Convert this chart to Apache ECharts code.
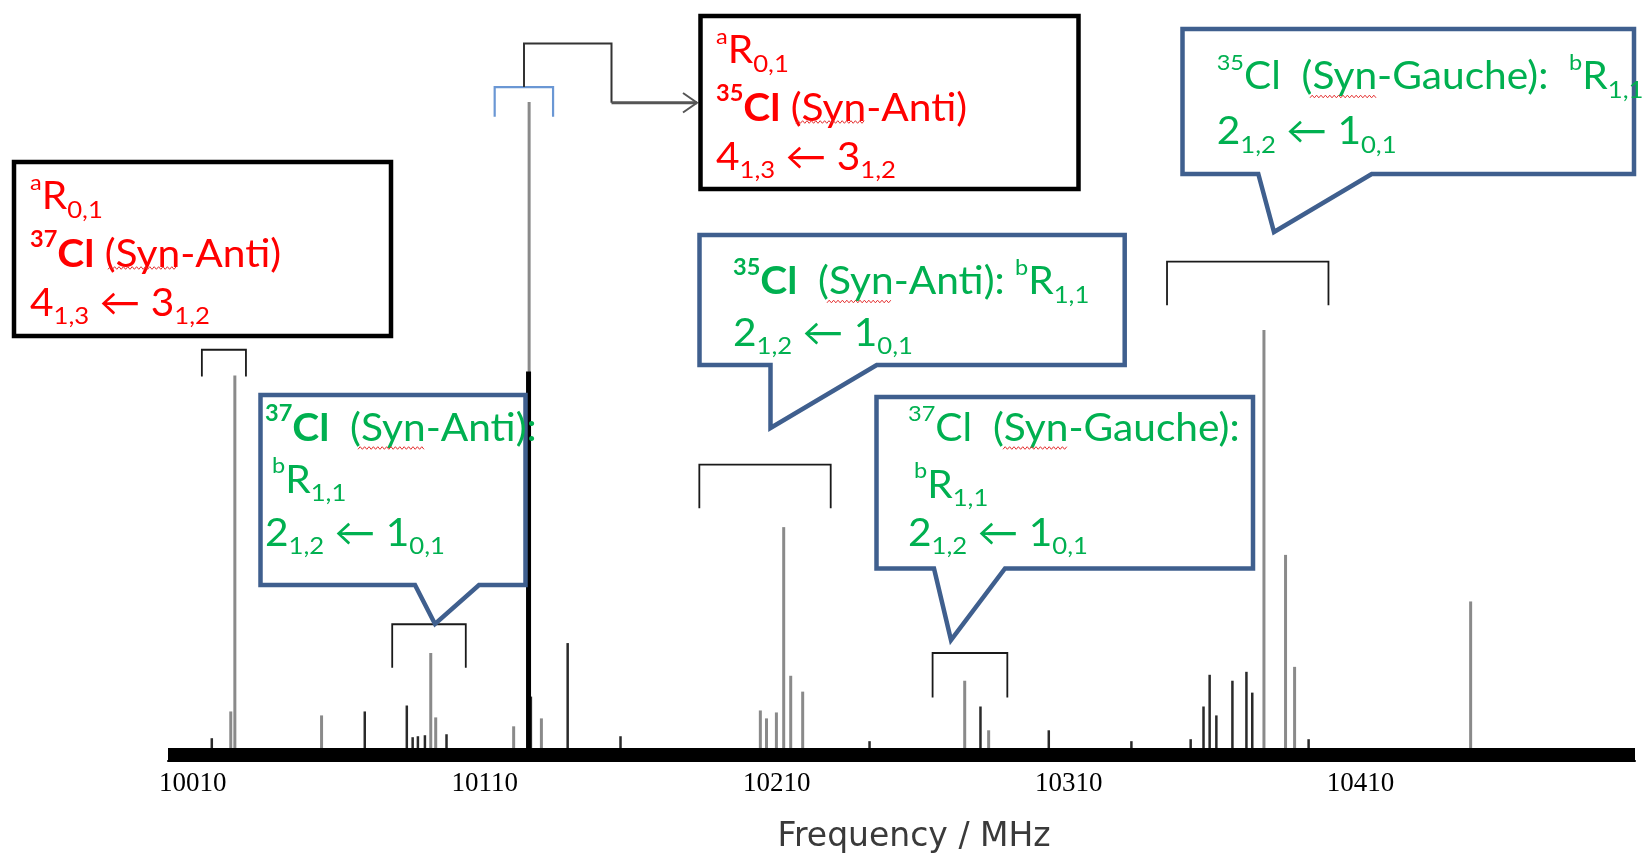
<!DOCTYPE html>
<html><head><meta charset="utf-8">
<script src="https://cdn.jsdelivr.net/npm/echarts@6/dist/echarts.min.js"></script>
<style>html,body{margin:0;padding:0;background:#fff}#c{width:1642px;height:859px}</style>
</head><body><div id="c"></div>
<script>
// ---- data (frequency in MHz, intensity in arbitrary units) ----
const tickValues = [10010, 10110, 10210, 10310, 10410];
const freqRange = [10001.5, 10504];
const intensityRange = [-7, 658];
const baselineFreq = [10001.5, 10504];
const baselineInt = [0, 0];
const lightPeakFreq = [10023.0, 10024.4, 10054.1, 10091.5, 10093.2, 10119.9, 10125.2, 10129.4, 10204.4, 10206.5, 10209.9, 10212.4, 10214.8, 10218.9, 10274.4, 10282.6, 10376.9, 10384.3, 10387.4, 10447.7];
const lightPeakInt  = [43, 382, 39, 102, 37, 28, 658, 36, 44, 36, 42, 229, 79, 63, 74, 24, 428, 201, 88, 154];
const darkPeakFreq = [10016.5, 10068.9, 10083.3, 10085.3, 10087.1, 10089.5, 10096.9, 10125.8, 10138.4, 10156.5, 10241.8, 10279.8, 10303.2, 10331.5, 10351.8, 10356.2, 10358.3, 10360.6, 10366.1, 10370.9, 10372.9, 10392.2];
const darkPeakInt  = [16, 43, 49, 17, 18, 19, 20, 58, 112, 18, 13, 48, 24, 13, 15, 48, 80, 39, 74, 83, 62, 15];
const strongPeakFreq = [10125.0];
const strongPeakInt = [386];
// assignment brackets: frequency span and heights
const bracketFreqStart = [10013.1, 10078.3, 10183.5, 10263.4, 10343.7];
const bracketFreqEnd   = [10028.2, 10103.5, 10228.5, 10289.0, 10399.0];
const bracketTop       = [408, 131, 292, 102, 497];
const bracketBottom    = [381, 87, 248, 57, 453];
const blueBracketFreq = [10113.4, 10133.4];
const blueBracketLevel = [673, 643];

// ---- chart ----
const chart = echarts.init(document.getElementById('c'), null, {renderer:'canvas'});
const zip = (a, b) => a.map((v, i) => [v, b[i]]);

function stickRender(color, width) {
  return function (params, api) {
    const p0 = api.coord([api.value(0), 0]);
    const p1 = api.coord([api.value(0), api.value(1)]);
    return {type:'line', shape:{x1:p0[0], y1:p0[1], x2:p1[0], y2:p1[1]},
            style:{stroke:color, lineWidth:width}};
  };
}
function bracketRender(color, width) {
  return function (params, api) {
    const a = api.coord([api.value(0), api.value(3)]);
    const b = api.coord([api.value(0), api.value(2)]);
    const c = api.coord([api.value(1), api.value(2)]);
    const d = api.coord([api.value(1), api.value(3)]);
    return {type:'polyline', shape:{points:[a, b, c, d]},
            style:{stroke:color, lineWidth:width, fill:null}};
  };
}

const FONT = 'Lato';
const TEXT_SCALE_X = 1.07;
function richFor(color) {
  return {
    n:   {fontSize:38, fontFamily:FONT, fill:color, lineHeight:50},
    nb:  {fontSize:38, fontFamily:FONT, fontWeight:'bold', fill:color, lineHeight:50},
    sup: {fontSize:22, fontFamily:FONT, fill:color, lineHeight:27, verticalAlign:'top'},
    supb:{fontSize:22, fontFamily:FONT, fontWeight:'bold', fill:color, lineHeight:27, verticalAlign:'top'},
    sub: {fontSize:24, fontFamily:FONT, fill:color, lineHeight:29, verticalAlign:'bottom'}
  };
}
const RED = '#FF0000', GREEN = '#00B050', BLUE = '#3F5F8E';
function txt(x, baseline, text, color) {
  return {type:'text', x:x, y:baseline - 14.7, z:120, scaleX:TEXT_SCALE_X,
          style:{text:text, rich:richFor(color), align:'left', verticalAlign:'middle',
                 fontSize:38, fontFamily:FONT, fill:color}};
}
function rectBox(x, y, w, h) {
  return {type:'rect', z:100, shape:{x:x, y:y, width:w, height:h},
          style:{fill:'#fff', stroke:'#000', lineWidth:4.5}};
}
function callout(points) {
  return {type:'polygon', z:100, shape:{points:points},
          style:{fill:'#fff', stroke:BLUE, lineWidth:4.5, lineJoin:'miter'}};
}
// spell-check style wavy underline (decoration)
function wavy(x1, x2, y) {
  const pts = [];
  let k = 0;
  for (let x = x1; x <= x2; x += 2.2, k++) pts.push([x, y + (k % 2 ? -1.3 : 1.3)]);
  return {type:'polyline', z:125, shape:{points:pts}, style:{stroke:'#e53030', lineWidth:1, fill:null}};
}
const arrowL = '{n|4}{sub|1,3}{n| \u2190 3}{sub|1,2}';
const arrowB = '{n|2}{sub|1,2}{n| \u2190 1}{sub|0,1}';

const graphics = [
  // black boxes (a-type transitions)
  rectBox(14, 162, 377, 174),
  txt(30, 211.5, '{sup|a}{n|R}{sub|0,1}', RED),
  txt(30, 269, '{supb|37}{nb|Cl}{n| (Syn-Anti)}', RED),
  txt(30, 318, arrowL, RED),
  wavy(108, 178, 268),

  rectBox(700.5, 16, 378, 173),
  txt(716, 65.5, '{sup|a}{n|R}{sub|0,1}', RED),
  txt(716, 123, '{supb|35}{nb|Cl}{n| (Syn-Anti)}', RED),
  txt(716, 172, arrowL, RED),
  wavy(796, 866, 122),

  // connector from blue bracket to box
  {type:'polyline', z:90, shape:{points:[[524,87],[524,43.5],[611.5,43.5],[611.5,102.7]]},
   style:{stroke:'#333', lineWidth:2, fill:null}},
  {type:'polyline', z:90, shape:{points:[[611.5,102.7],[697,102.7]]},
   style:{stroke:'#555', lineWidth:3, fill:null}},
  {type:'polyline', z:90, shape:{points:[[683,93],[697,102.7],[683,112.5]]},
   style:{stroke:'#555', lineWidth:2, fill:null}},

  // callouts (b-type transitions)
  callout([[260.5,395],[525.5,395],[525.5,585],[479,585],[435,624],[415,585],[260.5,585]]),
  txt(265, 443, '{supb|37}{nb|Cl}{n|  (Syn-Anti):}', GREEN),
  txt(272, 495, '{sup|b}{n|R}{sub|1,1}', GREEN),
  txt(265, 548, arrowB, GREEN),
  wavy(358, 425, 448),

  callout([[699.5,235],[1124.7,235],[1124.7,365],[876.7,365],[770.5,428],[770.5,365],[699.5,365]]),
  txt(733, 296.7, '{supb|35}{nb|Cl}{n|  (Syn-Anti): }{sup|b}{n|R}{sub|1,1}', GREEN),
  txt(733, 348.3, arrowB, GREEN),
  wavy(827, 893, 301.5),

  callout([[876.5,397],[1253,397],[1253,568.5],[1005,568.5],[951,640],[934,568.5],[876.5,568.5]]),
  txt(908, 443, '{sup|37}{n|Cl  (Syn-Gauche):}', GREEN),
  txt(914, 500, '{sup|b}{n|R}{sub|1,1}', GREEN),
  txt(908, 548, arrowB, GREEN),
  wavy(1003, 1068, 448),

  callout([[1182.5,29],[1634,29],[1634,174],[1371.7,174],[1274,232],[1258.3,174],[1182.5,174]]),
  txt(1216.7, 91.7, '{sup|35}{n|Cl  (Syn-Gauche):  }{sup|b}{n|R}{sub|1,1}', GREEN),
  txt(1216.7, 146.7, arrowB, GREEN),
  wavy(1310, 1377, 96.5)
];

const option = {
  backgroundColor:'#fff',
  animation:false,
  grid:{left:168, right:7, top:102, bottom:92, containLabel:false},
  xAxis:{type:'value', min:freqRange[0], max:freqRange[1],
    axisLine:{show:true, onZero:false, lineStyle:{color:'#000', width:2}},
    axisTick:{show:false}, splitLine:{show:false},
    axisLabel:{customValues:tickValues, formatter:(v) => String(v),
               fontFamily:'Liberation Serif', fontSize:27, color:'#000', margin:9},
    name:'Frequency / MHz', nameLocation:'middle', nameGap:60,
    nameTextStyle:{fontFamily:'DejaVu Sans', fontSize:33, color:'#3a3a3a', padding:[0,0,0,25]}
  },
  yAxis:{type:'value', min:intensityRange[0], max:intensityRange[1], show:false},
  series:[
    {type:'custom', name:'light', clip:false, renderItem:stickRender('#8a8a8a', 3), data:zip(lightPeakFreq, lightPeakInt), z:2},
    {type:'custom', name:'dark', clip:false, renderItem:stickRender('#2a2a2a', 2.5), data:zip(darkPeakFreq, darkPeakInt), z:3},
    {type:'custom', name:'strong', clip:false, renderItem:stickRender('#000', 5), data:zip(strongPeakFreq, strongPeakInt), z:3},
    {type:'line', name:'baseline', data:zip(baselineFreq, baselineInt), symbol:'none',
     lineStyle:{color:'#000', width:12}, z:4, silent:true},
    {type:'custom', name:'brackets', clip:false, renderItem:bracketRender('#1a1a1a', 1.8),
     data:bracketFreqStart.map((s, i) => [s, bracketFreqEnd[i], bracketTop[i], bracketBottom[i]]), z:5},
    {type:'custom', name:'blueBracket', clip:false, renderItem:bracketRender('#6a97d4', 2.2),
     data:[[blueBracketFreq[0], blueBracketFreq[1], blueBracketLevel[0], blueBracketLevel[1]]], z:5}
  ],
  graphic:{elements:graphics}
};
chart.setOption(option);
</script></body></html>
